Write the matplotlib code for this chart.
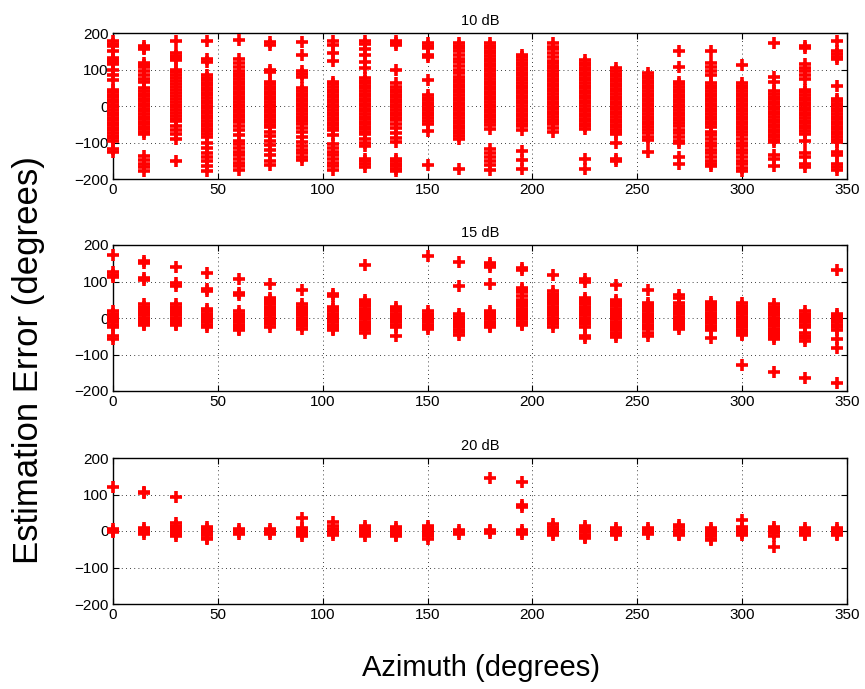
import matplotlib
matplotlib.use("Agg")
import matplotlib.pyplot as plt

azimuths = [0, 15, 30, 45, 60, 75, 90, 105, 120, 135, 150, 165,
            180, 195, 210, 225, 240, 255, 270, 285, 300, 315, 330, 345]

err_10db = [
    [177, 170, 164, 150, 132, 126, 120, 114, 100, 86, 72, 45, 38, 31, 24, 17, 10, 3, -4, -11, -18, -25, -32, -39, -46, -53, -60, -67, -74, -81, -88, -95, -118, -125],
    [165, 160, 155, 118, 112, 106, 95, 85, 75, 65, 48, 41, 34, 27, 20, 13, 6, -1, -8, -15, -22, -29, -36, -43, -50, -57, -64, -71, -76, -138, -148, -158, -168, -177],
    [178, 145, 138, 132, 127, 100, 92, 84, 76, 68, 60, 52, 44, 36, 28, 20, 12, 4, -4, -12, -20, -28, -36, -42, -55, -65, -78, -90, -150],
    [178, 128, 120, 85, 78, 71, 64, 57, 50, 43, 36, 29, 22, 15, 8, 1, -6, -13, -20, -27, -34, -41, -48, -55, -62, -69, -76, -85, -100, -115, -128, -140, -152, -165, -178],
    [180, 128, 118, 108, 95, 88, 81, 74, 67, 60, 53, 46, 39, 32, 25, 18, 11, 4, -3, -10, -17, -24, -31, -38, -45, -55, -65, -80, -95, -105, -115, -125, -135, -145, -155, -165, -175],
    [175, 168, 100, 93, 67, 60, 53, 46, 39, 32, 25, 18, 11, 4, -3, -10, -17, -24, -31, -38, -45, -52, -57, -70, -82, -95, -108, -120, -135, -150, -163],
    [175, 140, 95, 88, 80, 48, 41, 34, 27, 20, 13, 6, -1, -8, -15, -22, -29, -36, -40, -50, -60, -72, -85, -98, -110, -120, -130, -140, -148],
    [177, 168, 145, 122, 66, 59, 52, 45, 38, 31, 24, 17, 10, 3, -4, -11, -18, -25, -32, -39, -46, -53, -60, -66, -80, -105, -115, -125, -135, -145, -155, -165, -175],
    [178, 170, 155, 140, 120, 105, 76, 69, 62, 55, 48, 41, 34, 27, 20, 13, 6, -1, -8, -15, -22, -29, -36, -43, -50, -57, -64, -71, -76, -90, -100, -110, -145, -152, -160, -166],
    [177, 172, 168, 100, 62, 52, 45, 38, 31, 24, 17, 10, 3, -4, -11, -18, -25, -32, -39, -48, -60, -75, -88, -99, -145, -152, -158, -165, -172, -177],
    [172, 165, 158, 140, 135, 70, 30, 23, 16, 9, 2, -5, -12, -19, -26, -33, -40, -48, -68, -163],
    [172, 165, 158, 150, 140, 130, 120, 110, 100, 90, 80, 72, 65, 58, 51, 44, 37, 30, 23, 16, 9, 2, -5, -12, -19, -26, -33, -40, -47, -54, -61, -68, -75, -82, -90, -172],
    [172, 165, 158, 151, 144, 137, 130, 123, 116, 109, 102, 95, 88, 81, 74, 67, 60, 53, 46, 39, 32, 25, 18, 11, 4, -3, -10, -17, -24, -31, -38, -45, -52, -62, -118, -128, -140, -150, -162, -175],
    [140, 133, 126, 119, 112, 105, 98, 91, 84, 77, 70, 63, 56, 49, 42, 35, 28, 21, 14, 7, 0, -7, -14, -21, -28, -35, -42, -48, -55, -66, -122, -148, -172],
    [172, 163, 155, 145, 135, 124, 117, 110, 103, 96, 89, 82, 75, 68, 61, 54, 47, 40, 33, 26, 19, 12, 5, -2, -9, -16, -23, -30, -37, -44, -48, -60, -72],
    [126, 119, 112, 105, 98, 91, 84, 77, 70, 63, 56, 49, 42, 35, 28, 21, 14, 7, 0, -7, -14, -21, -28, -35, -42, -49, -56, -62, -145, -172],
    [103, 96, 89, 82, 75, 68, 61, 54, 47, 40, 33, 26, 19, 12, 5, -2, -9, -16, -23, -30, -37, -44, -51, -58, -65, -72, -76, -100, -145, -152],
    [90, 83, 76, 69, 62, 55, 48, 41, 34, 27, 20, 13, 6, -1, -8, -15, -22, -29, -36, -43, -50, -58, -66, -75, -84, -92, -125],
    [150, 108, 66, 59, 52, 45, 38, 31, 24, 17, 10, 3, -4, -11, -18, -25, -32, -39, -46, -55, -65, -75, -85, -95, -100, -140, -158],
    [150, 118, 108, 95, 85, 62, 55, 48, 41, 34, 27, 20, 13, 6, -1, -8, -15, -22, -29, -36, -43, -50, -57, -70, -80, -90, -100, -110, -120, -130, -140, -150, -160, -165],
    [113, 62, 55, 48, 41, 34, 27, 20, 13, 6, -1, -8, -15, -22, -29, -36, -43, -50, -57, -64, -70, -80, -90, -100, -110, -120, -130, -140, -150, -160, -170, -177],
    [172, 80, 65, 40, 33, 26, 19, 12, 5, -2, -9, -16, -23, -30, -37, -44, -51, -58, -65, -72, -79, -86, -93, -99, -135, -145, -165],
    [165, 158, 115, 105, 95, 85, 75, 44, 37, 30, 23, 16, 9, 2, -5, -12, -19, -26, -33, -40, -47, -54, -61, -68, -76, -95, -130, -140, -160, -168],
    [178, 150, 142, 135, 128, 55, 20, 13, 6, -1, -8, -15, -22, -29, -36, -43, -50, -57, -64, -71, -78, -85, -92, -99, -125, -135, -160, -168, -175],
]

err_15db = [
    [172, 125, 118, 112, 18, 12, 6, 0, -6, -12, -18, -24, -50, -58],
    [155, 150, 110, 103, 37, 31, 25, 19, 13, 7, 1, -5, -11, -17, -20],
    [140, 95, 88, 37, 31, 25, 19, 13, 7, 1, -5, -11, -17, -20],
    [123, 80, 73, 24, 18, 12, 6, 0, -6, -12, -18, -25],
    [108, 68, 62, 18, 12, 6, 0, -6, -12, -18, -24, -30, -33],
    [92, 55, 49, 43, 37, 31, 25, 19, 13, 7, 1, -5, -11, -17, -25],
    [78, 37, 31, 25, 19, 13, 7, 1, -5, -11, -17, -23, -30],
    [65, 60, 30, 24, 18, 12, 6, 0, -6, -12, -18, -24, -30, -33],
    [145, 50, 44, 38, 32, 26, 20, 14, 8, 2, -4, -10, -16, -22, -28, -34, -42],
    [30, 24, 18, 12, 6, 0, -6, -12, -18, -25, -48],
    [170, 18, 12, 6, 0, -6, -12, -18, -24, -30],
    [153, 89, 10, 4, -2, -8, -14, -20, -26, -32, -38, -47],
    [152, 145, 140, 93, 20, 14, 8, 2, -4, -10, -16, -22, -25],
    [138, 132, 82, 76, 70, 60, 50, 44, 38, 32, 26, 20, 14, 8, 2, -4, -10, -16, -20],
    [118, 73, 67, 61, 55, 49, 43, 37, 31, 25, 19, 13, 7, 1, -5, -11, -17, -25],
    [108, 100, 55, 49, 43, 37, 31, 25, 19, 13, 7, 1, -5, -11, -17, -25, -48, -56],
    [91, 50, 44, 38, 32, 26, 20, 14, 8, 2, -4, -10, -16, -22, -28, -34, -40, -46, -52],
    [78, 42, 36, 30, 24, 18, 12, 6, 0, -6, -12, -18, -24, -30, -42, -50],
    [62, 56, 40, 34, 28, 22, 16, 10, 4, -2, -8, -14, -20, -26, -30],
    [45, 39, 33, 27, 21, 15, 9, 3, -3, -9, -15, -21, -27, -33, -55],
    [40, 34, 28, 22, 16, 10, 4, -2, -8, -14, -20, -26, -32, -38, -44, -47, -129],
    [37, 31, 25, 19, 13, 7, 1, -5, -11, -17, -23, -29, -35, -41, -47, -53, -57, -148],
    [18, 12, 6, 0, -6, -12, -18, -25, -40, -48, -56, -62, -164],
    [132, 12, 6, 0, -6, -12, -18, -24, -32, -58, -82, -177],
]

err_20db = [
    [121, 5, 0, -3],
    [107, 104, 8, 3, -2, -7],
    [94, 21, 15, 9, 3, -3, -9, -13],
    [12, 6, 0, -6, -12, -18, -22],
    [5, 0, -4, -8],
    [5, 0, -4, -8],
    [36, 8, 3, -2, -7, -13],
    [24, 14, 6, 0, -6, -12],
    [15, 9, 3, -3, -9, -15],
    [12, 6, 0, -6, -12, -15],
    [15, 9, 3, -3, -9, -15, -22],
    [3, -2, -8],
    [146, 3, -1, -5],
    [133, 72, 65, 3, -2, -8],
    [18, 12, 6, 0, -6, -12],
    [14, 8, 2, -4, -10, -16, -20],
    [7, 2, -3, -8, -12],
    [7, 2, -3, -8],
    [16, 10, 4, -2, -8, -12],
    [9, 3, -3, -9, -15, -21, -24],
    [31, 10, 5, 0, -5, -10],
    [12, 6, 0, -6, -13, -44],
    [7, 2, -3, -8, -12],
    [7, 2, -3, -8, -10],
]

titles = ["10 dB", "15 dB", "20 dB"]
x_ticks = [0, 50, 100, 150, 200, 250, 300, 350]
y_ticks = [-200, -100, 0, 100, 200]
y_ticklabels = ['\u2212200', '\u2212100', '0', '100', '200']

plt.rcParams['font.family'] = ['Liberation Sans', 'DejaVu Sans']

fig = plt.figure(figsize=(8.65, 6.89), dpi=100)
W, H = 865, 689
left = 113 / W
width = 734 / W
tops = [33, 245, 458]
h = 146

for panel, (data, title, top) in enumerate(zip([err_10db, err_15db, err_20db], titles, tops)):
    ax = fig.add_axes([left, 1 - (top + h) / H, width, h / H])
    for az, vals in zip(azimuths, data):
        ax.plot([az] * len(vals), vals, linestyle='none', marker='+',
                color='#ff0000', markersize=8, markeredgewidth=2.6,
                clip_on=False, zorder=3)
    ax.set_xlim(0, 350)
    ax.set_ylim(-200, 200)
    ax.set_xticks(x_ticks)
    ax.set_yticks(y_ticks)
    ax.set_yticklabels(y_ticklabels)
    ax.grid(True, linestyle=(0, (1, 4)), color='black', linewidth=0.6)
    ax.tick_params(direction='in', top=True, right=True, length=4,
                   labelsize=11, pad=3, width=0.8)
    for s in ax.spines.values():
        s.set_linewidth(1.0)
        s.set_zorder(2.5)
    ax.set_title(title, fontsize=10.5, pad=6)

fig.text(481 / W, 1 - 668 / H, "Azimuth (degrees)", ha='center', va='center', fontsize=21)
fig.text(29 / W, 1 - 360 / H, "Estimation Error (degrees)", ha='center', va='center',
         rotation=90, fontsize=25)

fig.savefig("out.png", dpi=100)
